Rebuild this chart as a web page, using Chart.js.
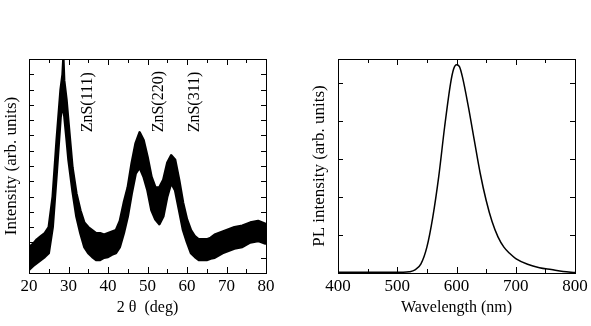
<!DOCTYPE html>
<html><head><meta charset="utf-8">
<script src="https://cdn.jsdelivr.net/npm/chart.js@4"></script>
<style>
html,body{margin:0;padding:0;background:#fff;}
#wrap{position:relative;width:591px;height:326px;}
canvas{position:absolute;top:0;}
</style></head>
<body><div id="wrap">
<canvas id="c1" width="295" height="326" style="left:0"></canvas>
<canvas id="c2" width="296" height="326" style="left:295px"></canvas>
</div>
<script>
// ---- XRD data (band of noisy trace: upper / lower envelope) ----
const xrdTheta = [20,21,22,23,24,25,26,27,28,28.5,28.7,28.9,29.5,30,31,32,33,34,35,36,37,38,39,40,41,42,43,44,45,46,47,48,49,50,51,52,53,54,55,56,57,58,59,60,61,62,63,64,65,66,67,68,69,70,72,74,76,78,80];
const xrdUpper = [1.7,1.9,2.2,2.4,2.6,3.0,5.0,8.7,12.0,13.0,14.0,12.6,11.3,9.8,6.9,5.2,4.1,3.3,3.0,2.8,2.6,2.6,2.5,2.6,2.7,2.8,3.4,4.6,5.6,7.2,8.5,9.2,8.7,7.6,6.3,5.6,5.6,6.1,7.2,7.7,7.4,6.1,4.6,3.5,2.8,2.4,2.2,2.2,2.2,2.3,2.5,2.6,2.7,2.8,3.0,3.1,3.3,3.4,3.2];
const xrdLower = [0.2,0.45,0.65,0.85,1.05,1.3,3.0,6.5,10.2,10.9,10.8,10.4,8.8,7.4,5.4,3.7,2.6,1.7,1.3,1.05,0.85,0.85,1.0,1.05,1.2,1.3,1.7,2.6,3.7,5.2,6.5,6.9,6.3,5.4,4.1,3.5,3.2,3.7,5.0,5.9,5.4,4.1,2.8,2.0,1.3,1.05,0.85,0.85,0.85,0.95,1.0,1.15,1.3,1.4,1.6,1.7,2.0,2.1,1.9];
const xrdMajorTicks = [20,30,40,50,60,70,80];
const xrdMinorTicks = [25,35,45,55,65,75];
const xrdYTicks = [1,2,3,4,5,6,7,8,9,10,11,12,13];
const xrdPeakLabels = ["ZnS(111)","ZnS(220)","ZnS(311)"];
const xrdPeakLabelX = [34.9,52.8,61.9];
const xrdPeakLabelY = 9.2;

// ---- PL data ----
const plWavelength = [400,420,440,460,480,500,510,520,530,540,550,560,570,580,590,595,600,605,610,620,630,640,650,660,670,680,690,700,720,740,760,780,800];
const plIntensity = [0.02,0.02,0.02,0.02,0.02,0.02,0.02,0.03,0.08,0.24,0.68,1.47,2.53,3.84,4.98,5.35,5.47,5.42,5.15,4.37,3.49,2.62,1.91,1.35,0.95,0.68,0.51,0.38,0.23,0.14,0.09,0.04,0.01];
const plMajorTicks = [400,500,600,700,800];
const plMinorTicks = [450,550,650,750];
const plYTicks = [1,2,3,4,5];

const FONT = '"Liberation Serif","Times New Roman",serif';

function framePlugin(cfg){
  return {
    id:'frame',
    afterDatasetsDraw(chart){
      const {ctx, chartArea:a, scales:{x,y}} = chart;
      ctx.save();
      ctx.strokeStyle='#000'; ctx.lineWidth=1;
      ctx.strokeRect(Math.round(a.left)+0.5, Math.round(a.top)+0.5, Math.round(a.right-a.left), Math.round(a.bottom-a.top));
      ctx.beginPath();
      const tick=(v,len)=>{
        const px=Math.round(x.getPixelForValue(v))+0.5;
        ctx.moveTo(px,a.bottom); ctx.lineTo(px,a.bottom-len);
        ctx.moveTo(px,a.top); ctx.lineTo(px,a.top+len);
      };
      cfg.major.forEach(v=>tick(v,6));
      cfg.minor.forEach(v=>tick(v,4));
      cfg.yticks.forEach(v=>{
        const py=Math.round(y.getPixelForValue(v))+0.5;
        ctx.moveTo(a.left,py); ctx.lineTo(a.left+5,py);
        ctx.moveTo(a.right,py); ctx.lineTo(a.right-5,py);
      });
      ctx.stroke();
      if(cfg.labels){
        ctx.fillStyle='#000';
        ctx.font='16px '+FONT;
        ctx.textAlign='left'; ctx.textBaseline='middle';
        cfg.labels.forEach((t,i)=>{
          const px=x.getPixelForValue(cfg.labelX[i]);
          const py=y.getPixelForValue(cfg.labelY);
          ctx.save(); ctx.translate(px,py); ctx.rotate(-Math.PI/2);
          ctx.fillText(t,0,0); ctx.restore();
        });
      }
      ctx.restore();
    }
  };
}

function makeOpts(xmin,xmax,xstep,ymax,xtitle,ytitle,yw,ytpad,rightPad){
  return {
    responsive:false, animation:false, devicePixelRatio:1,
    layout:{padding:{top:59,right:rightPad,left:0,bottom:0}},
    plugins:{legend:{display:false},tooltip:{enabled:false}},
    scales:{
      x:{type:'linear',min:xmin,max:xmax,
        grid:{display:false,drawTicks:false},border:{display:false},
        ticks:{stepSize:xstep,color:'#000',font:{family:FONT,size:17},padding:3,maxRotation:0,autoSkip:false},
        title:{display:true,text:xtitle,color:'#000',font:{family:FONT,size:16},padding:{top:0,bottom:9}},
        afterFit(s){s.height=53;}
      },
      y:{type:'linear',min:0,max:ymax,
        grid:{display:false,drawTicks:false},border:{display:false},
        ticks:{display:false},
        title:{display:true,text:ytitle,color:'#000',font:{family:FONT,size:17},padding:{top:ytpad,bottom:0}},
        afterFit(s){s.width=yw;}
      }
    }
  };
}

new Chart(document.getElementById('c1'),{
  type:'line',
  data:{datasets:[
    {data:xrdTheta.map((t,i)=>({x:t,y:xrdUpper[i]})),borderColor:'#000',backgroundColor:'#000',borderWidth:2.5,pointRadius:0,fill:'+1',tension:0,borderJoinStyle:'round'},
    {data:xrdTheta.map((t,i)=>({x:t,y:xrdLower[i]})),borderColor:'#000',backgroundColor:'#000',borderWidth:2.5,pointRadius:0,fill:false,tension:0,borderJoinStyle:'round'}
  ]},
  options:makeOpts(20,80,10,14,'2 \u03B8  (deg)','Intensity (arb. units)',29,1,29),
  plugins:[framePlugin({major:xrdMajorTicks,minor:xrdMinorTicks,yticks:xrdYTicks,labels:xrdPeakLabels,labelX:xrdPeakLabelX,labelY:xrdPeakLabelY})]
});

new Chart(document.getElementById('c2'),{
  type:'line',
  data:{datasets:[
    {data:plWavelength.map((w,i)=>({x:w,y:plIntensity[i]})),borderColor:'#000',borderWidth:1.5,pointRadius:0,fill:false,cubicInterpolationMode:'monotone'}
  ]},
  options:makeOpts(400,800,100,5.62,'Wavelength (nm)','PL intensity (arb. units)',43,14,16),
  plugins:[framePlugin({major:plMajorTicks,minor:plMinorTicks,yticks:plYTicks})]
});
</script>
</body></html>
